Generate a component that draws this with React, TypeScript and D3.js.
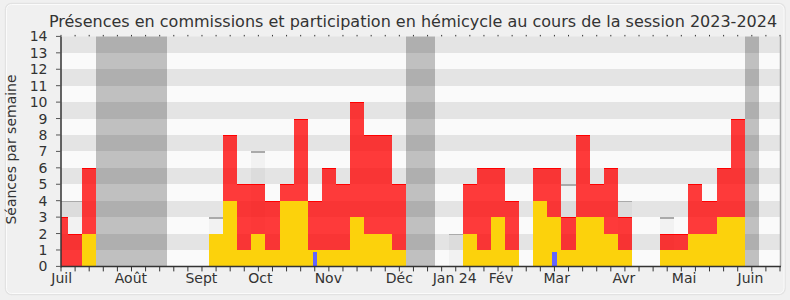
import React from "react";
import * as d3 from "d3";

// ---- data (one entry per week, week 0 = début juillet 2023) ----
const weeks: number[] = d3.range(0, 52);
const commission: number[] = [
  0, 0, 2, 0, 0, 0, 0, 0, 0, 0, 0, 2, 4, 1, 2, 1, 4, 4, 1, 1, 1, 3, 2, 2, 1, 0,
  0, 0, 0, 2, 1, 3, 1, 0, 4, 3, 1, 3, 3, 2, 1, 0, 0, 1, 1, 2, 2, 3, 3, 0, 0, 0,
];
const total: number[] = [
  3, 2, 6, 0, 0, 0, 0, 0, 0, 0, 0, 2, 8, 5, 5, 4, 5, 9, 4, 6, 5, 10, 8, 8, 5, 0,
  0, 0, 0, 5, 6, 6, 4, 0, 6, 6, 3, 8, 5, 6, 3, 0, 0, 2, 2, 5, 4, 6, 9, 0, 0, 0,
];
const median: (number | null)[] = [
  4, 4, null, null, null, null, null, null, null, null, null, 3, null, null, 7, null, null, null, null, null, null, null, null, null, null, null,
  null, null, 2, null, null, null, null, null, null, null, 5, null, null, null, 4, null, null, 3, null, null, null, null, null, null, null, null,
];
const participation: number[] = [
  0, 0, 0, 0, 0, 0, 0, 0, 0, 0, 0, 0, 0, 0, 0, 0, 0, 0, 0.86, 0, 0, 0, 0, 0, 0, 0,
  0, 0, 0, 0, 0, 0, 0, 0, 0, 0.86, 0, 0, 0, 0, 0, 0, 0, 0, 0, 0, 0, 0, 0, 0, 0, 0,
];
const vacationWeeks: number[] = [3, 4, 5, 6, 7, 25, 26, 49];
const monthLabels: string[] = ["Juil", "Août", "Sept", "Oct", "Nov", "Déc", "Jan 24", "Fév", "Mar", "Avr", "Mai", "Juin"];
const monthPos: number[] = [0.05, 4.96, 9.96, 14.14, 18.96, 24.0, 27.92, 31.2, 35.16, 39.93, 44.2, 48.9];
const yTicks: number[] = d3.range(0, 15);

const W = 790;
const H = 300;
const FONT = "'DejaVu Sans', Verdana, sans-serif";

function toRanges(list: number[]): [number, number][] {
  const out: [number, number][] = [];
  list.forEach((w) => {
    const last = out[out.length - 1];
    if (last && last[1] === w - 1) last[1] = w;
    else out.push([w, w]);
  });
  return out;
}

export default function App() {
  const x = d3.scaleLinear().domain([0, 51]).range([61, 780]);
  const y = d3.scaleLinear().domain([0, 14]).range([266.4, 36.4]);
  const left = x(0), right = x(51), top = y(14), bottom = y(0);
  const vac = toRanges(vacationWeeks);

  return (
    <svg
      width={W}
      height={H}
      style={{ position: "absolute", left: 0, top: 0, fontFamily: FONT }}
    >
      <defs>
        <clipPath id="plot">
          <rect x={left} y={top} width={right - left} height={bottom - top} />
        </clipPath>
      </defs>
      <rect x={0} y={0} width={W} height={H} fill="#f0f0f0" />
      <rect x={5.5} y={3.5} width={779.5} height={291} rx={6} fill="#f0f0f0" stroke="#e2e2e2" strokeWidth={1.5} />
      <rect x={6.5} y={4.5} width={777.5} height={289} rx={5} fill="none" stroke="#fbfbfb" strokeWidth={1} />

      <text x={413} y={26.5} textAnchor="middle" fontSize={16} fill="#333">
        Présences en commissions et participation en hémicycle au cours de la session 2023-2024
      </text>

      <g clipPath="url(#plot)" shapeRendering="crispEdges">
        <rect x={left} y={top} width={right - left} height={bottom - top} fill="#fafafa" />
        {vac.map(([a, b]) => (
          <rect key={"v" + a} x={x(a - 0.5)} y={top} width={x(b + 0.5) - x(a - 0.5)} height={bottom - top} fill="#c0c0c0" />
        ))}
        {yTicks.filter((t) => t % 2 === 1).map((t) => (
          <rect key={"s" + t} x={left} y={y(t + 1)} width={right - left} height={y(t) - y(t + 1)} fill="rgba(0,0,0,0.085)" />
        ))}
        {weeks.map((w) => {
          const m = median[w];
          if (m == null) return null;
          return (
            <g key={"m" + w}>
              <rect x={x(w - 0.5)} y={y(m)} width={x(w + 0.5) - x(w - 0.5)} height={y(0) - y(m)} fill="rgba(0,0,0,0.03)" />
              <rect x={x(w - 0.5)} y={y(m)} width={x(w + 0.5) - x(w - 0.5)} height={1.5} fill="#aaaaaa" />
            </g>
          );
        })}
        {weeks.map((w) =>
          commission[w] > 0 ? (
            <rect key={"c" + w} x={x(w - 0.5)} y={y(commission[w])} width={x(w + 0.5) - x(w - 0.5)} height={y(0) - y(commission[w])} fill="#fcd20c" />
          ) : null
        )}
        {weeks.map((w) =>
          total[w] > commission[w] ? (
            <g key={"h" + w}>
              <rect x={x(w - 0.5)} y={y(total[w])} width={x(w + 0.5) - x(w - 0.5)} height={y(commission[w]) - y(total[w])} fill="rgba(255,0,0,0.77)" />
              <rect x={x(w - 0.5)} y={y(total[w])} width={x(w + 0.5) - x(w - 0.5)} height={1} fill="#ff0000" />
            </g>
          ) : null
        )}
        {weeks.map((w) =>
          participation[w] > 0 ? (
            <rect key={"p" + w} x={x(w - 0.15)} y={y(participation[w])} width={x(w + 0.15) - x(w - 0.15)} height={y(0) - y(participation[w])} fill="#6464ff" />
          ) : null
        )}
      </g>

      {/* right border */}
      <line x1={right + 0.5} x2={right + 0.5} y1={top} y2={bottom} stroke="#a8a8a8" strokeWidth={1.5} />
      {/* top dots */}
      {weeks.map((w) => (
        <line key={"td" + w} x1={x(w)} x2={x(w)} y1={top - 1.5} y2={top} stroke="#333" strokeWidth={1} />
      ))}
      {/* y axis */}
      <line x1={left} x2={left} y1={top} y2={bottom + 1} stroke="#333" strokeWidth={1.5} />
      {yTicks.map((t) => (
        <g key={"yt" + t}>
          <line x1={left - 5} x2={left} y1={y(t)} y2={y(t)} stroke="#555" strokeWidth={1} />
          <text x={47.5} y={y(t)} dy="0.36em" textAnchor="end" fontSize={14} fill="#333">
            {t}
          </text>
        </g>
      ))}
      {/* x axis */}
      <line x1={left} x2={right + 1} y1={bottom} y2={bottom} stroke="#333" strokeWidth={1.5} />
      {weeks.map((w) => (
        <line key={"xt" + w} x1={x(w)} x2={x(w)} y1={bottom} y2={bottom + 5} stroke="#333" strokeWidth={1} />
      ))}
      {monthLabels.map((m, i) => (
        <text key={m} x={x(monthPos[i])} y={283} textAnchor="middle" fontSize={14} fill="#333">
          {m}
        </text>
      ))}
      <text transform={`translate(16,149.5) rotate(-90)`} textAnchor="middle" fontSize={14} fill="#333">
        Séances par semaine
      </text>
    </svg>
  );
}
